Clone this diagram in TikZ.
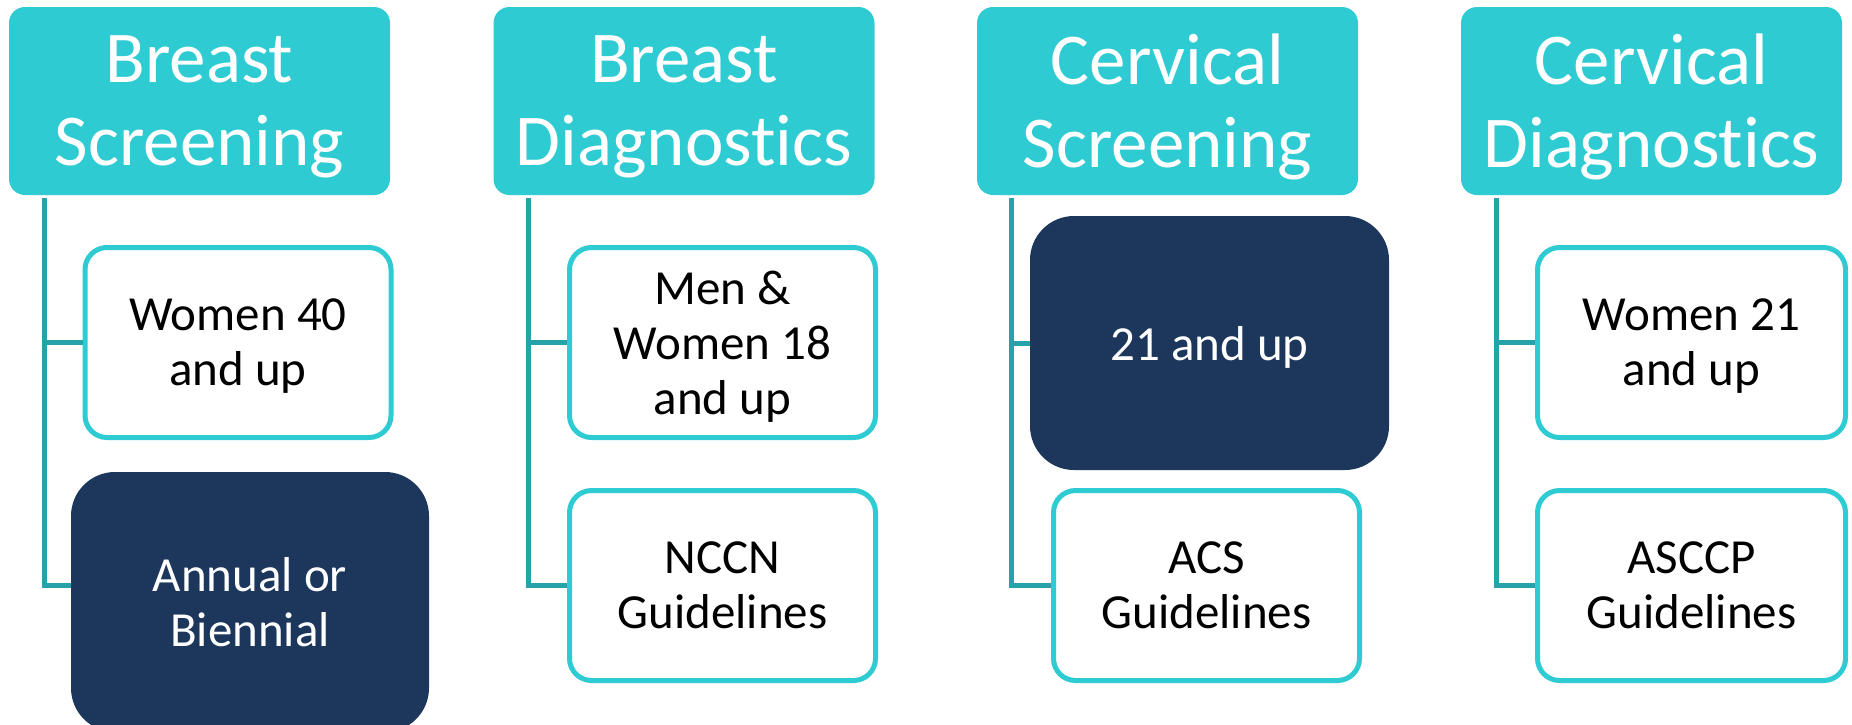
\documentclass[tikz,border=0pt]{standalone}
\usepackage{fontspec}
\setmainfont{Carlito}[Ligatures={NoCommon}]
\usepackage{tikz}
\usetikzlibrary{calc}
\definecolor{tealhead}{RGB}{46,203,211}
\definecolor{navybox}{RGB}{28,54,92}
\definecolor{teallink}{RGB}{38,163,170}

\begin{document}
\begin{tikzpicture}[x=1pt,y=1pt,
		head/.style={fill=tealhead, rounded corners=16pt, minimum width=381pt, minimum height=188pt,
			inner sep=0pt, text depth=0pt, text=white, align=center, font=\fontsize{73}{83}\selectfont},
		item/.style={draw=tealhead, line width=5pt, fill=white, rounded corners=22pt,
			minimum width=306pt, minimum height=190pt, inner sep=0pt, text depth=0pt, align=center,
			font=\fontsize{49}{55}\selectfont},
		darkitem/.style={fill=navybox, rounded corners=44pt, inner sep=0pt, text depth=0pt, text=white,
			align=center, font=\fontsize{49}{55}\selectfont},
		link/.style={draw=teallink, line width=5pt}]
	\useasboundingbox (0,0) rectangle (1852,-724);

	% column headers
	\node[head] (bs) at (199.5,-101) {Breast\\Screening};
	\node[head] (bd) at (684,-101) {Breast\\Diagnostics};
	\node[head] (cs) at (1167.5,-101) {Cervical\\Screening};
	\node[head] (cd) at (1651.5,-101) {Cervical\\Diagnostics};

	% breast screening
	\node[item] (bsWho) at (238,-342.5) {Women 40\\and up};
	\node[darkitem, minimum width=358pt, minimum height=260pt] (bsFreq) at (250,-602) {Annual or\\Biennial};
	\draw[link] ([xshift=36pt,yshift=-3pt]bs.south west) |- (bsWho.west);
	\draw[link] ([xshift=36pt,yshift=-3pt]bs.south west) |- ([yshift=17pt]bsFreq.west);

	% breast diagnostics
	\node[item] (bdWho) at (722.5,-342.5) {Men \&\\Women 18\\and up};
	\node[item] (bdGuide) at (722.5,-585.5) {NCCN\\Guidelines};
	\draw[link] ([xshift=35pt,yshift=-3pt]bd.south west) |- (bdWho.west);
	\draw[link] ([xshift=35pt,yshift=-3pt]bd.south west) |- (bdGuide.west);

	% cervical screening
	\node[darkitem, minimum width=359pt, minimum height=254pt] (csWho) at (1209.5,-343) {21 and up};
	\node[item] (csGuide) at (1206.5,-585.5) {ACS\\Guidelines};
	\draw[link] ([xshift=35pt,yshift=-3pt]cs.south west) |- (csWho.west);
	\draw[link] ([xshift=35pt,yshift=-3pt]cs.south west) |- (csGuide.west);

	% cervical diagnostics
	\node[item, minimum width=308pt] (cdWho) at (1691.5,-342.5) {Women 21\\and up};
	\node[item, minimum width=308pt] (cdGuide) at (1691.5,-585.5) {ASCCP\\Guidelines};
	\draw[link] ([xshift=36pt,yshift=-3pt]cd.south west) |- (cdWho.west);
	\draw[link] ([xshift=36pt,yshift=-3pt]cd.south west) |- (cdGuide.west);
\end{tikzpicture}
\end{document}
